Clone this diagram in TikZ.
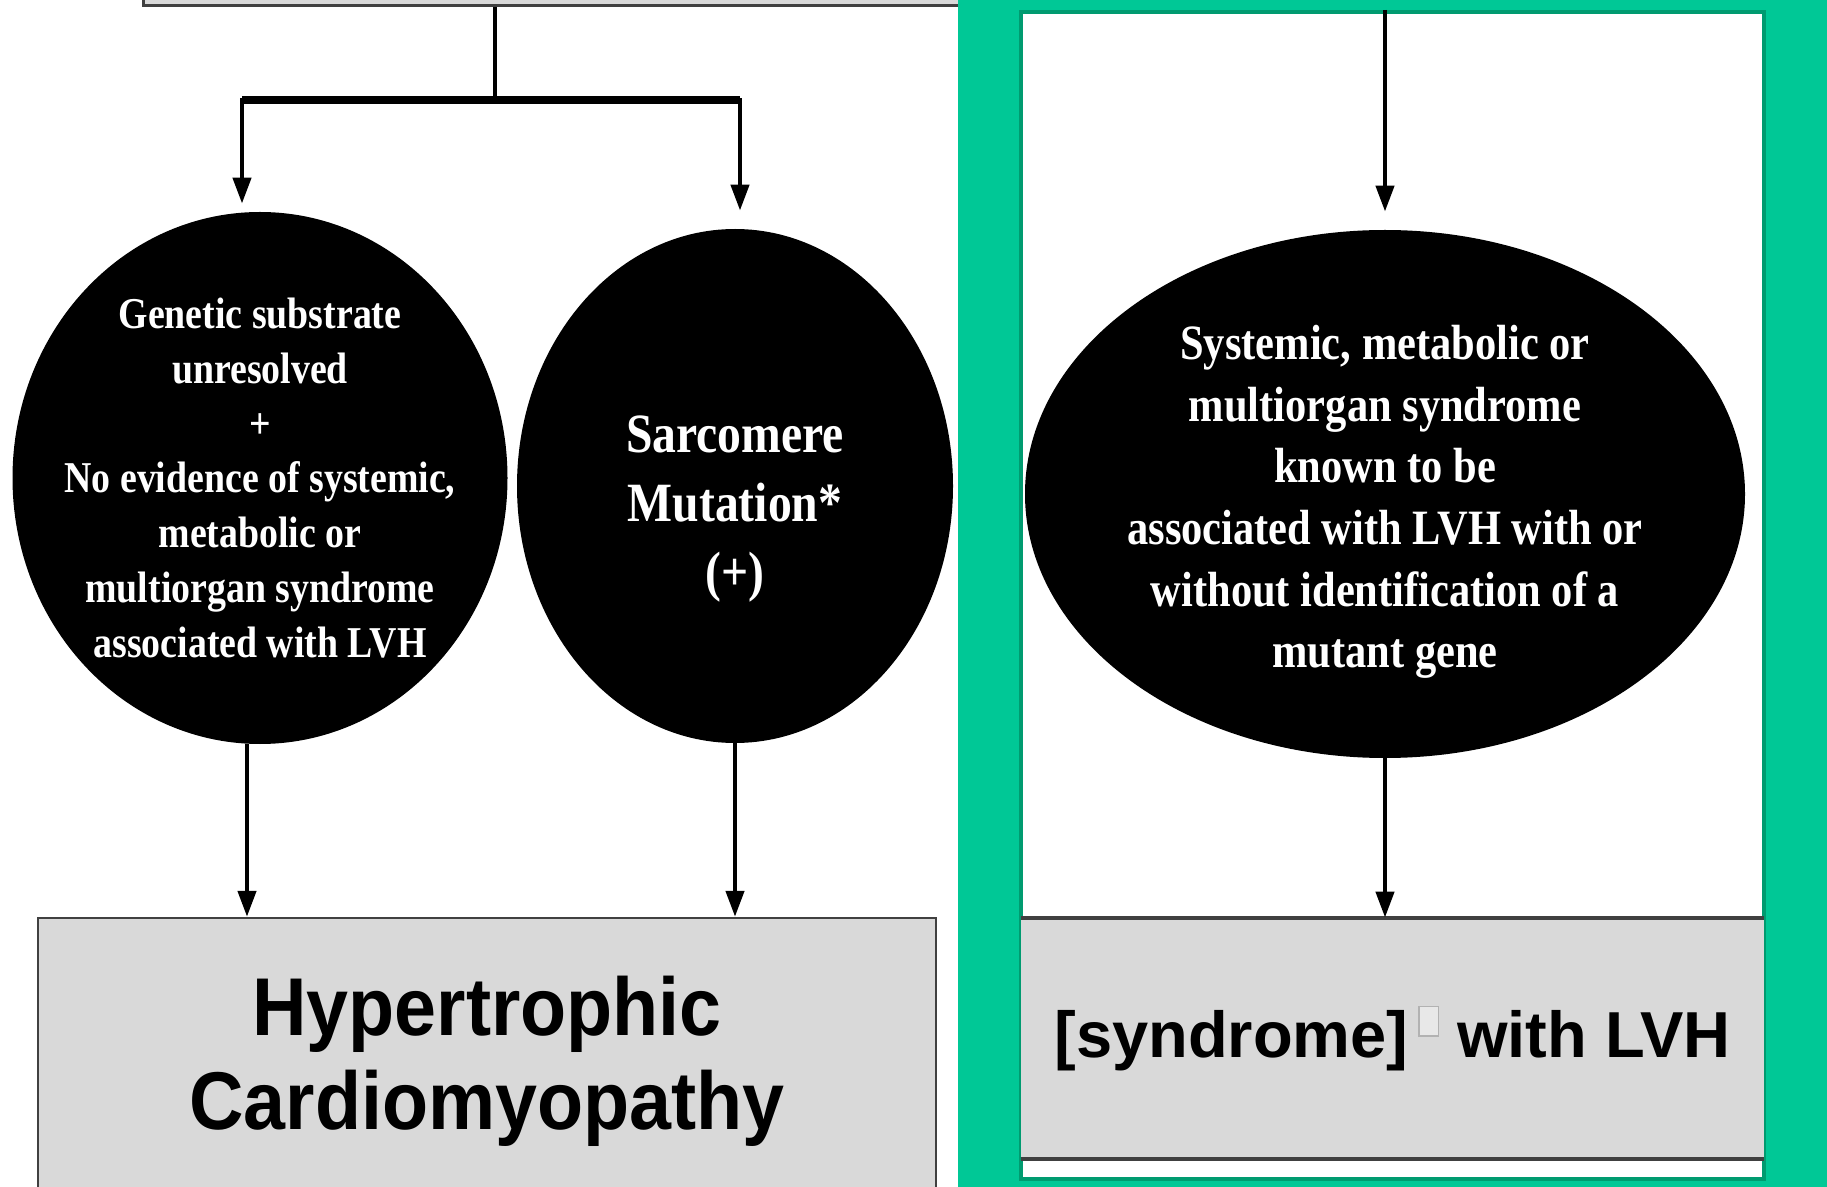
\documentclass[tikz,border=0pt]{standalone}
\usepackage{fontspec}
\setmainfont{Liberation Serif}
\setsansfont{Liberation Sans}
\newfontfamily\condserif[FakeStretch=0.86]{Liberation Serif}
\newfontfamily\condsans[FakeStretch=0.92]{Liberation Sans}
\usetikzlibrary{arrows.meta,calc,positioning,shapes.geometric}

\definecolor{panelgreen}{RGB}{0,200,150}
\definecolor{paneledge}{RGB}{0,155,112}
\definecolor{boxgray}{RGB}{217,217,217}
\definecolor{boxline}{RGB}{64,64,64}

\newcommand{\missingglyph}{{\setlength\fboxsep{0pt}\setlength\fboxrule{0.7pt}%
  \raisebox{11pt}{\fcolorbox{gray!60}{boxgray!60}{\rule{0pt}{14pt}\rule{9pt}{0pt}}}}}

\tikzset{
  blob/.style={ellipse,fill=black,inner sep=0pt},
  blobtext/.style={text=white,inner sep=0pt,align=center},
  greybox/.style={rectangle,fill=boxgray,inner sep=0pt,align=center},
  wire/.style={line width=2.2pt},
  arr/.style={line width=2.2pt,-{Triangle[length=13pt,width=9pt]}},
}

\begin{document}
\begin{tikzpicture}[x=0.5pt,y=-0.5pt]
\useasboundingbox (0,0) rectangle (1827,1187);

% top box, cut off by the page
\node[greybox,draw=boxline,line width=1.5pt,minimum width=408.5pt,minimum height=18pt] (top) at (551.5,-12) {};

% left branch
\node[blob,minimum width=247.5pt,minimum height=266pt] (gen) at (260,478) {};
\node[blobtext,font=\condserif\bfseries\fontsize{22}{27.4}\selectfont] (gentext) at (gen)
  {Genetic substrate\\unresolved\\+\\No evidence of systemic,\\metabolic or\\multiorgan syndrome\\associated with LVH};
\node[blob,minimum width=218pt,minimum height=257pt] (sar) at (735,486) {};
\node[blobtext,font=\condserif\bfseries\fontsize{27.7}{34.5}\selectfont] (sartext) at ($(sar)+(0,23)$)
  {Sarcomere\\Mutation*\\(+)};
\node[greybox,minimum width=449pt,minimum height=137pt,draw=boxline,line width=1.2pt] (hcm) at (487,1055) {};
\node[font=\condsans\bfseries\fontsize{41}{47}\selectfont,align=center,inner sep=0pt] (hcmtext) at ($(hcm)+(0,6)$)
  {Hypertrophic\\Cardiomyopathy};

\coordinate (split) at (495,100);
\coordinate (genin) at ($(gen.north)+(-18,-8)$);
\coordinate (sarin) at ($(sar.north)+(5,-18)$);
\coordinate (genout) at ($(gen.south)+(-13,0)$);
\draw[wire] (top.south -| split) -- (split);
\draw[line width=4pt] (genin |- split) -- (sarin |- split);
\draw[arr] (split) -| (genin);
\draw[arr] (split) -| (sarin);
\draw[arr] (genout) -- (genout |- hcm.north);
\draw[arr] (sar.south) -- (sar.south |- hcm.north);

% right panel
\fill[panelgreen] (958,0) rectangle (1827,1187);
\node[draw=paneledge,fill=white,line width=2pt,minimum width=371.5pt,minimum height=583.5pt] (panel) at (1392.5,595.5) {};
\node[blob,minimum width=360pt,minimum height=264pt] (sys) at (1385,494) {};
\node[blobtext,font=\condserif\bfseries\fontsize{24.7}{30.8}\selectfont] (systext) at ($(sys)+(0,8)$)
  {Systemic, metabolic or\\multiorgan syndrome\\known to be\\associated with LVH with or\\without identification of a\\mutant gene};
\node[greybox,minimum width=371.5pt,minimum height=120.5pt,
      font=\sffamily\bfseries\fontsize{32.5}{40}\selectfont] (syn) at (1392.5,1038.5)
  {[syndrome]\hspace{5pt}\missingglyph\ with LVH};
\draw[boxline,line width=2pt] (syn.north west) -- (syn.north east) (syn.south west) -- (syn.south east);
\draw[arr] (panel.north -| sys) -- ($(sys.north)+(0,-18)$);
\draw[arr] (sys.south) -- (sys.south |- syn.north);
\end{tikzpicture}
\end{document}
